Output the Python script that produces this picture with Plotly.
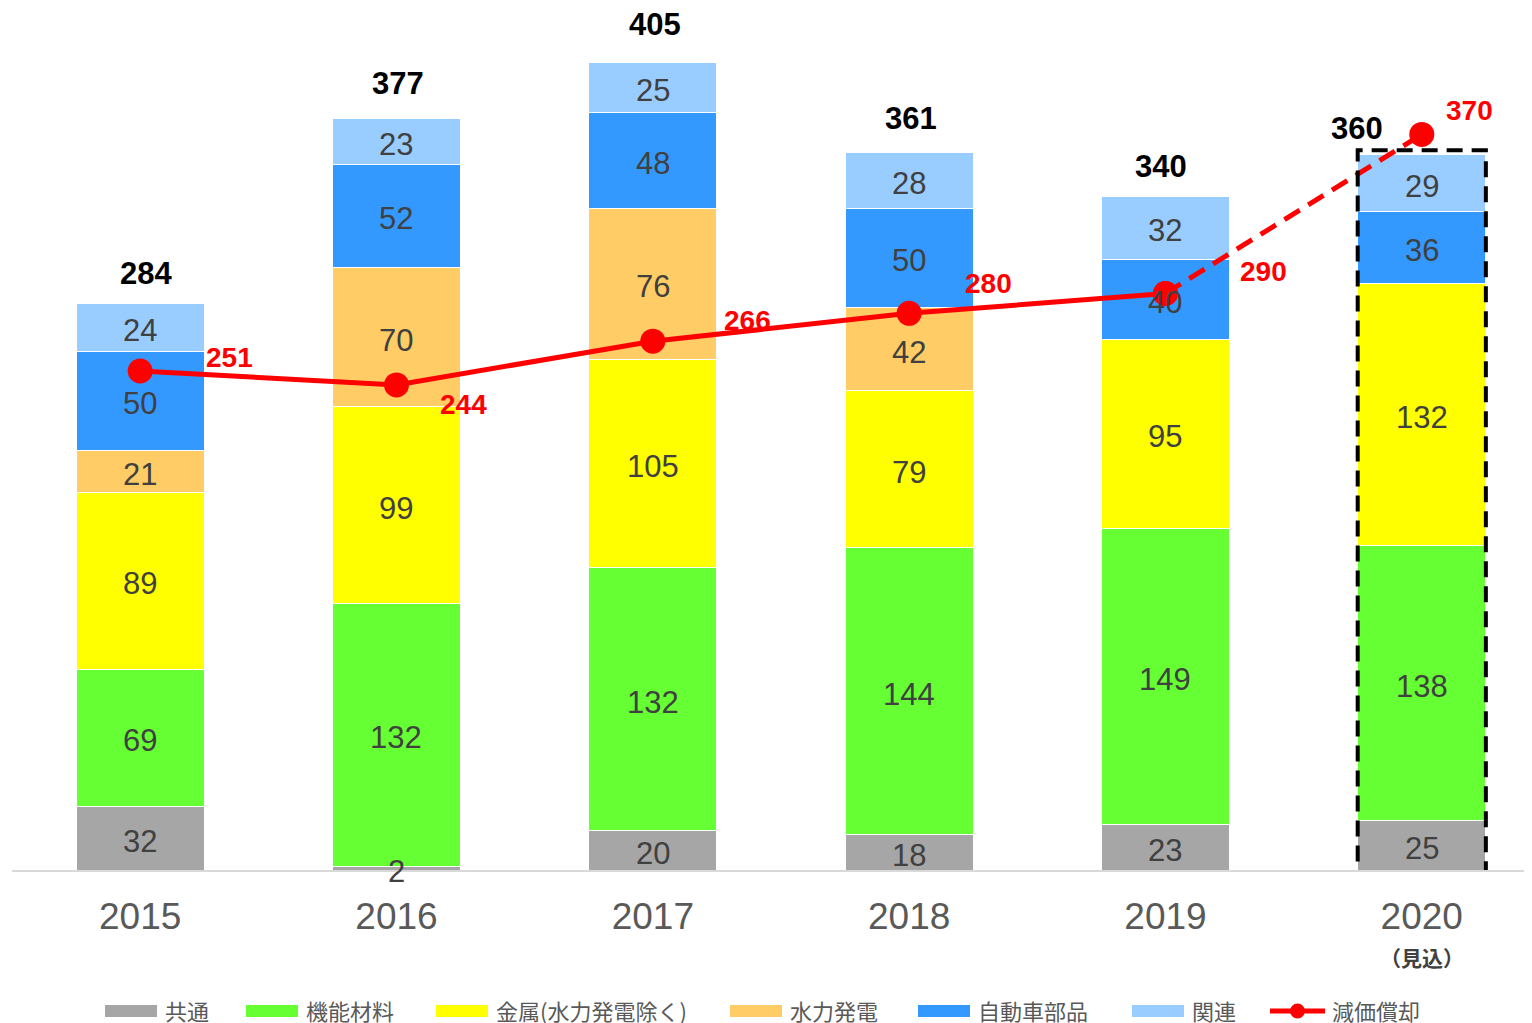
import plotly.graph_objects as go

years = ["2015", "2016", "2017", "2018", "2019", "2020"]
forecast_note = "（見込）"
common = [32, 2, 20, 18, 23, 25]
functional = [69, 132, 132, 144, 149, 138]
metal = [89, 99, 105, 79, 95, 132]
hydro = [21, 70, 76, 42, None, None]
auto = [50, 52, 48, 50, 40, 36]
related = [24, 23, 25, 28, 32, 29]
totals = [284, 377, 405, 361, 340, 360]
depreciation = [251, 244, 266, 280, 290, 370]
line_name = "減価償却"

series = [
    ("共通", common, "#A6A6A6"),
    ("機能材料", functional, "#66FF33"),
    ("金属(水力発電除く)", metal, "#FFFF00"),
    ("水力発電", hydro, "#FFCC66"),
    ("自動車部品", auto, "#3399FF"),
    ("関連", related, "#99CCFF"),
]
RED = "#FF0000"
FONT = "Liberation Sans, Arial, Noto Sans CJK JP, sans-serif"
JFONT = "Noto Sans CJK JP, Liberation Sans, sans-serif"
xs = list(range(len(years)))

# page renders with an 8px body margin; lay out in screen pixels
OFF = 8
W, H = 1532, 1023
PL, PR, PT, PB = 12, 1532, 10, 870   # plot box in screen pixels


def px(sx):  # screen x -> paper x
    return (sx - PL) / (PR - PL)


def py(sy):  # screen y -> paper y
    return (PB - sy) / (PB - PT)


fig = go.Figure()
for name, vals, color in series:
    fig.add_trace(go.Bar(
        x=xs, y=vals, name=name, marker_color=color,
        marker_line_color="white", marker_line_width=1,
        width=0.5, showlegend=False, hoverinfo="skip",
    ))

# segment labels at segment midpoints
base = [0] * len(xs)
for name, vals, color in series:
    for i, v in enumerate(vals):
        if v is None:
            continue
        fig.add_annotation(x=xs[i], y=base[i] + v / 2, text=str(v),
                           showarrow=False, yshift=-3,
                           font=dict(size=31, color="#404040", family=FONT))
        base[i] += v

# depreciation line: solid for actuals, dashed for forecast
fig.add_trace(go.Scatter(
    x=xs[:5], y=depreciation[:5], mode="lines+markers", showlegend=False,
    line=dict(color=RED, width=5), marker=dict(size=25, color=RED),
    hoverinfo="skip",
))
fig.add_trace(go.Scatter(
    x=xs[4:], y=depreciation[4:], mode="lines+markers", showlegend=False,
    line=dict(color=RED, width=5, dash="18px,10px"),
    marker=dict(size=25, color=RED), hoverinfo="skip",
))

# totals labels
total_dy = [32, 37, 40, 34, 28, 26]
total_dx = [6, 2, 2, 2, -4, -65]
for i, t in enumerate(totals):
    fig.add_annotation(x=xs[i], y=t, text=f"<b>{t}</b>", showarrow=False,
                       xshift=total_dx[i], yshift=total_dy[i],
                       font=dict(size=31, color="black", family=FONT))

# depreciation labels
dep_dx = [89, 67, 95, 79, 98, 48]
dep_dy = [14, -20, 21, 30, 22, 24]
for i, d in enumerate(depreciation):
    fig.add_annotation(x=xs[i], y=d, text=f"<b>{d}</b>", showarrow=False,
                       xshift=dep_dx[i], yshift=dep_dy[i],
                       font=dict(size=28, color=RED, family=FONT))

# forecast note under 2020 tick
fig.add_annotation(x=xs[5], y=py(957), yref="paper", text=f"<b>{forecast_note}</b>",
                   showarrow=False, yanchor="middle",
                   font=dict(size=21, color="#404040", family=JFONT))

# dashed box around forecast bar
fig.add_shape(type="rect", x0=xs[5] - 0.25, x1=xs[5] + 0.25,
              y0=-2, y1=totals[5] + 2,
              line=dict(color="black", width=4, dash="16px,9px"),
              fillcolor="rgba(0,0,0,0)", layer="above")

# custom legend (screen pixel layout)
LEG_Y = 1010
leg_sym_x = [105, 246, 436, 730, 918, 1132]
for (name, vals, color), sx in zip(series, leg_sym_x):
    fig.add_shape(type="rect", xref="paper", yref="paper",
                  x0=px(sx), x1=px(sx + 52), y0=py(LEG_Y + 7), y1=py(LEG_Y - 5),
                  fillcolor=color, line=dict(width=0))
    fig.add_annotation(xref="paper", yref="paper", x=px(sx + 58), y=py(LEG_Y),
                       xanchor="left", yanchor="middle", text=name, showarrow=False,
                       font=dict(size=22, color="#595959", family=JFONT))
lx = 1270
fig.add_shape(type="line", xref="paper", yref="paper",
              x0=px(lx), x1=px(lx + 55), y0=py(LEG_Y + 1), y1=py(LEG_Y + 1),
              line=dict(color=RED, width=5))
fig.add_shape(type="circle", xref="paper", yref="paper",
              x0=px(lx + 20), x1=px(lx + 35), y0=py(LEG_Y + 8.5), y1=py(LEG_Y - 6.5),
              fillcolor=RED, line=dict(width=0))
fig.add_annotation(xref="paper", yref="paper", x=px(lx + 60), y=py(LEG_Y),
                   xanchor="left", yanchor="middle", text=line_name, showarrow=False,
                   font=dict(size=22, color="#595959", family=JFONT))

fig.update_layout(
    width=W, height=H,
    barmode="stack",
    plot_bgcolor="white", paper_bgcolor="white",
    margin=dict(l=PL - OFF, r=W - PR + OFF, t=PT - OFF, b=H - PB + OFF, autoexpand=False),
    font=dict(family=JFONT, color="#404040"),
    showlegend=False,
    xaxis=dict(range=[-0.5, 5.43], tickmode="array", tickvals=xs,
               ticktext=years, showgrid=False, zeroline=False,
               showline=True, linecolor="#D9D9D9", linewidth=2,
               ticks="", ticklabelstandoff=13,
               tickfont=dict(size=37, color="#595959", family=FONT)),
    yaxis=dict(range=[0, (PB - PT) / 1.988], visible=False, showgrid=False),
)

fig.write_html("out.html")
